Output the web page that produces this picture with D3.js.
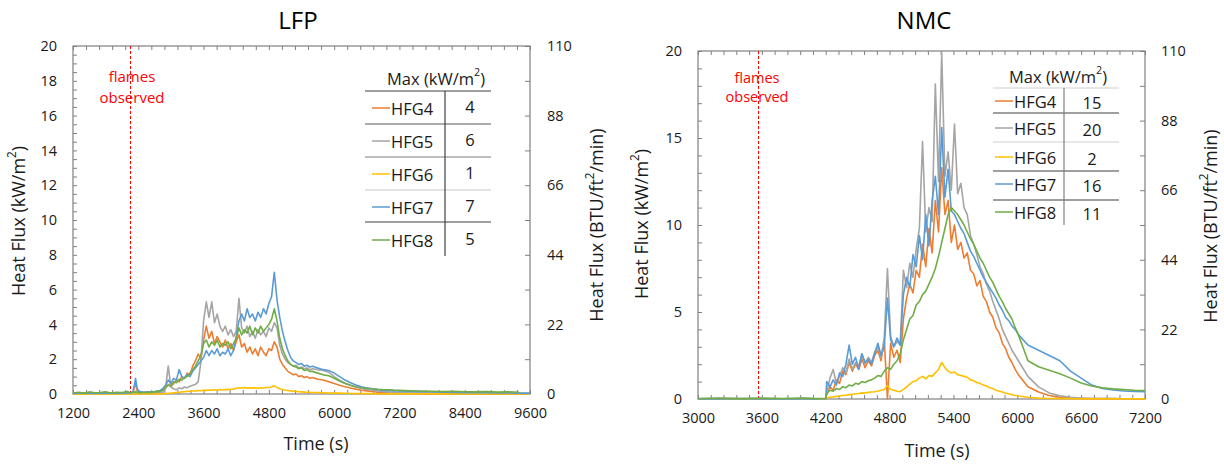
<!DOCTYPE html>
<html><head><meta charset="utf-8">
<script src="https://cdn.jsdelivr.net/npm/d3@7"></script>
<style>
body{margin:0;background:#fff;}
svg{display:block;font-family:"Open Sans","Noto Sans",sans-serif;}
</style></head><body>
<svg id="c" width="1224" height="466"></svg>
<script>
// ---------------- DATA ----------------
const seriesNames = ["HFG4","HFG5","HFG6","HFG7","HFG8"];
const lfpMax = [4,6,1,7,5];
const nmcMax = [15,20,2,16,11];
const lfpFlamesTime = 2240;
const nmcFlamesTime = 3565;

const lfpXTicks = [1200,2400,3600,4800,6000,7200,8400,9600];
const nmcXTicks = [3000,3600,4200,4800,5400,6000,6600,7200];
const lfpYTicks = [0,2,4,6,8,10,12,14,16,18,20];
const nmcYTicks = [0,5,10,15,20];
const btuTicks = [0,22,44,66,88,110];

const lfpTime = [1200,1300,1400,1500,1600,1700,1800,1900,2000,2100,2200,2250,2300,2330,2350,2380,2420,2500,2600,2700,2800,
2850,2900,2950,3000,3050,3100,3150,3200,3250,3300,3350,3400,3450,3500,3550,3600,3650,3700,3750,3800,
3850,3900,3950,4000,4050,4100,4150,4200,4250,4300,4350,4400,4450,4500,4550,4600,4650,4700,4750,4800,
4850,4900,4950,5000,5050,5100,5150,5200,5250,5300,5350,5400,5450,5500,5550,5600,
5700,5800,5900,6000,6100,6200,6300,6400,6500,6600,6700,6800,6900,7000,7100,7200,
7400,7600,7800,8000,8200,8400,8600,8800,9000,9200,9400,9600];

const lfpHFG4 = [0.03,0.04,0.03,0.05,0.04,0.03,0.05,0.04,0.03,0.05,0.04,0.06,0.08,0.40,0.60,0.20,0.10,0.08,0.10,0.12,0.18,
0.25,0.35,0.55,0.45,0.6,0.8,0.7,1.0,0.9,1.2,
1.1,1.6,1.9,2.3,2.0,3.1,3.9,3.2,3.6,2.9,
3.3,3.0,2.7,3.1,2.6,2.9,2.5,3.0,3.4,2.7,
2.9,2.4,2.7,2.3,2.6,2.2,2.7,2.4,2.2,2.6,
2.5,3.0,2.7,2.0,1.7,1.5,1.3,1.2,1.1,1.15,
1.0,1.05,0.95,1.0,0.9,0.95,
0.85,0.8,0.7,0.6,0.5,0.42,0.35,0.28,0.22,0.18,0.14,0.1,0.08,0.06,0.05,0.04,
0.03,0.02,0.02,0.01,0.01,0.01,0.01,0.01,0.01,0.01,0.01,0.01];

const lfpHFG5 = [0.04,0.03,0.05,0.04,0.05,0.03,0.04,0.05,0.04,0.03,0.05,0.04,0.05,0.10,0.15,0.10,0.06,0.05,0.06,0.08,0.10,
0.08,0.3,1.6,0.4,0.3,0.25,0.35,0.3,0.4,0.35,
0.45,0.5,0.55,0.7,1.8,4.2,5.3,4.4,5.3,4.1,
4.6,3.9,3.6,3.9,3.4,3.7,3.3,3.6,5.5,3.8,
3.5,3.9,3.3,3.6,3.2,3.7,3.4,3.6,3.3,3.8,
3.6,4.1,3.8,2.8,2.3,2.0,1.8,1.7,1.6,1.65,
1.5,1.55,1.45,1.5,1.4,1.45,
1.4,1.35,1.25,1.0,0.8,0.62,0.5,0.4,0.32,0.26,0.22,0.18,0.15,0.12,0.1,0.08,
0.06,0.05,0.04,0.03,0.03,0.02,0.02,0.02,0.02,0.02,0.02,0.02];

const lfpHFG6 = [0,0,0,0,0,0,0,0,0,0,0,0,0,0,0.01,0,0,0,0,0,0.01,
0.01,0.02,0.04,0.05,0.07,0.09,0.1,0.12,0.13,0.15,
0.16,0.17,0.18,0.2,0.19,0.22,0.21,0.23,0.22,0.24,
0.23,0.25,0.24,0.26,0.25,0.27,0.28,0.33,0.36,0.34,
0.37,0.35,0.36,0.34,0.35,0.33,0.36,0.34,0.37,0.38,
0.4,0.47,0.38,0.3,0.26,0.22,0.2,0.18,0.16,0.15,
0.13,0.12,0.11,0.1,0.1,0.09,
0.08,0.07,0.06,0.05,0.05,0.04,0.03,0.03,0.02,0.02,0.02,0.01,0.01,0.01,0.01,0.01,
0.01,0.01,0.01,0.01,0.01,0.01,0.01,0.01,0.01,0.01,0.01,0.01];

const lfpHFG7 = [0.05,0.04,0.06,0.05,0.03,0.06,0.05,0.04,0.06,0.05,0.07,0.06,0.10,0.55,0.90,0.30,0.15,0.10,0.12,0.14,0.20,
0.3,0.5,0.8,0.6,0.9,0.8,1.4,1.0,0.9,1.1,
1.0,1.3,1.5,1.7,1.9,2.1,2.5,2.2,2.5,2.3,
2.6,2.2,2.4,2.3,2.6,2.2,2.5,3.3,4.2,4.6,
4.2,4.9,4.4,4.6,4.2,4.7,4.4,4.9,4.6,5.2,
5.6,7.0,5.4,4.4,3.6,3.0,2.5,2.1,1.9,1.8,
1.7,1.75,1.6,1.65,1.55,1.6,
1.5,1.4,1.35,1.2,1.0,0.8,0.65,0.52,0.42,0.35,0.3,0.25,0.22,0.2,0.18,0.17,
0.15,0.13,0.12,0.1,0.09,0.08,0.07,0.07,0.06,0.06,0.05,0.05];

const lfpHFG8 = [0.06,0.10,0.05,0.12,0.07,0.09,0.13,0.06,0.10,0.08,0.14,0.07,0.10,0.12,0.09,0.11,0.06,0.10,0.08,0.12,0.15,
0.2,0.4,0.5,0.45,0.7,0.65,0.85,0.8,0.95,1.0,
1.2,1.4,1.6,1.9,2.2,2.9,3.1,2.7,3.0,2.8,
3.1,2.7,2.9,2.8,3.0,2.6,2.9,3.2,3.8,3.4,
3.7,3.5,3.9,3.4,3.8,3.5,3.9,3.6,3.8,4.0,
4.3,4.9,4.2,3.2,2.6,2.2,1.9,1.7,1.6,1.55,
1.45,1.5,1.35,1.4,1.3,1.3,
1.2,1.1,1.05,0.9,0.75,0.6,0.5,0.42,0.36,0.32,0.3,0.27,0.25,0.24,0.22,0.21,
0.19,0.17,0.16,0.14,0.15,0.13,0.12,0.14,0.11,0.12,0.1,null];

const nmcTime = [3000,3200,3400,3600,3800,4000,4100,4200,
4210,4240,4270,4300,4330,4360,4390,4420,4450,4480,
4510,4540,4570,4600,4630,4660,4690,4720,4750,4780,
4810,4840,4870,4900,4930,4960,4990,5020,5050,5080,
5110,5140,5170,5200,5230,5260,5290,5320,5350,5380,
5410,5440,5470,5500,5530,5560,5590,5620,5650,5680,
5710,5740,5770,5800,5830,5860,5890,5920,5950,5980,
6010,
6100,6200,6300,6400,6500,6600,6700,6800,6900,7000,7100,7200];

const nmcHFG4 = [0.01,0.01,0.01,0.01,0.01,0.01,0.01,0.02,
0.3,0.7,0.5,1.1,0.9,1.6,1.4,2.1,1.6,2.0,
1.7,2.3,1.8,2.2,1.9,2.5,2.8,2.2,3.4,0.0,
3.2,2.4,2.8,2.1,4.6,5.8,6.6,6.1,7.4,7.0,
8.9,7.6,9.8,8.4,11.4,9.6,13.3,10.6,11.4,9.0,
10.0,8.6,9.0,8.1,8.4,7.4,7.2,6.5,6.8,5.9,
5.6,5.0,4.7,4.1,3.8,3.2,2.9,2.4,2.1,1.7,
1.4,
0.7,0.4,0.2,0.1,0.06,0.04,0.03,0.02,0.02,0.01,0.01,0.01];

const nmcHFG5 = [0.01,0.02,0.01,0.02,0.01,0.02,0.01,0.02,
0.4,1.2,1.7,0.9,1.3,1.8,1.5,2.3,1.7,2.1,
1.9,2.6,2.0,2.4,2.1,2.7,3.0,2.4,3.5,7.5,
3.6,3.0,3.3,3.1,7.4,6.4,7.8,7.0,8.6,9.8,
14.8,9.6,11.0,10.2,18.1,12.5,19.9,12.8,14.2,12.0,
15.8,11.8,12.4,11.0,10.6,9.4,8.9,8.3,7.6,7.2,
6.6,6.2,5.6,5.1,4.6,4.0,3.6,3.2,2.8,2.5,
2.2,
1.3,0.7,0.35,0.18,0.1,0.05,0.03,0.02,0.02,0.01,0.01,0.01];

const nmcHFG6 = [0,0,0,0,0,0,0,0.01,
0.05,0.1,0.12,0.15,0.17,0.2,0.22,0.25,0.27,0.3,
0.32,0.35,0.34,0.38,0.4,0.42,0.45,0.5,0.55,0.78,
0.55,0.5,0.45,0.42,0.55,0.7,0.85,1.0,1.05,1.2,
1.3,1.15,1.35,1.3,1.5,1.7,2.1,1.8,1.6,1.5,
1.55,1.4,1.35,1.3,1.25,1.1,1.05,0.95,0.9,0.8,
0.75,0.65,0.6,0.5,0.45,0.4,0.33,0.3,0.25,0.2,
0.17,
0.1,0.05,0.03,0.02,0.02,0.01,0.01,0.01,0.01,0.01,0.01,0.01];

const nmcHFG7 = [0.01,0.01,0.02,0.01,0.01,0.02,0.01,0.02,
1.0,0.7,1.1,0.8,1.5,1.3,2.0,3.1,2.0,2.4,
1.7,2.6,2.1,2.3,2.0,2.6,3.2,2.5,3.0,5.8,
3.4,3.0,3.5,3.1,6.0,7.0,6.4,8.3,7.6,9.4,
8.0,10.6,8.8,11.4,12.8,10.6,15.6,11.6,13.2,10.8,
10.6,10.2,9.8,9.5,9.0,8.5,8.2,7.8,7.4,7.0,
6.7,6.4,6.1,5.8,5.4,5.1,4.7,4.5,4.2,4.0,
3.7,
3.1,2.8,2.5,2.2,1.6,1.2,0.8,0.6,0.52,0.46,0.43,0.42];

const nmcHFG8 = [0.03,0.06,0.02,0.05,0.03,0.06,0.02,0.04,
0.3,0.5,0.45,0.6,0.55,0.7,0.65,0.8,0.75,0.9,
0.85,1.0,0.95,1.05,1.1,1.2,1.35,1.3,1.6,1.8,
1.7,2.0,2.2,2.6,3.4,4.0,4.6,4.8,5.4,5.6,
6.0,6.2,6.6,7.0,7.5,8.2,9.0,9.8,10.6,11.0,
10.8,10.6,10.3,10.0,9.6,9.2,8.9,8.5,8.1,7.8,
7.4,7.0,6.7,6.3,5.9,5.6,5.2,4.9,4.6,4.1,
3.7,
2.2,1.85,1.65,1.45,1.2,0.92,0.75,0.64,0.58,0.54,0.5,0.48];

// ---------------- DRAWING ----------------
const colors = ["#ED7D31","#A5A5A5","#FFC000","#5B9BD5","#70AD47"];
const svg = d3.select("#c");
const frameColor = "#808080";
const textColor = "#1a1a1a";

function range2(a,b,s){const r=[];for(let v=a;v<=b+1e-9;v+=s)r.push(+v.toFixed(6));return r;}

function supText(sel, pre, sup, post, fs){
  sel.append("tspan").text(pre);
  sel.append("tspan").attr("dy",-fs*0.38).attr("font-size",fs*0.65).text(sup);
  sel.append("tspan").attr("dy",fs*0.38).text(post);
}

function drawChart(o){
  const g = svg.append("g");
  const x = d3.scaleLinear().domain(o.xDomain).range([o.x0,o.x1]);
  const y = d3.scaleLinear().domain([0,20]).range([o.y1,o.y0]);
  const y2 = d3.scaleLinear().domain([0,110]).range([o.y1,o.y0]);

  g.append("text").attr("x",o.titleX).attr("y",o.titleY).attr("text-anchor","middle")
    .attr("font-size",o.titleSize).attr("fill","#000").text(o.title);

  const cid = "clip"+o.title;
  svg.append("clipPath").attr("id",cid).append("rect")
    .attr("x",o.x0).attr("y",o.y0-2).attr("width",o.x1-o.x0).attr("height",o.y1-o.y0+3);

  const mk = (axis, tr, vals, size) => {
    const a = g.append("g").attr("transform",tr)
      .call(axis.tickValues(vals).tickSize(size).tickFormat(""));
    a.select(".domain").remove();
    a.selectAll("line").attr("stroke",frameColor);
    return a;
  };
  mk(d3.axisBottom(x), `translate(0,${o.y1})`, o.xMinor, -4);
  mk(d3.axisTop(x), `translate(0,${o.y0})`, o.xMinor, -4);
  mk(d3.axisLeft(y), `translate(${o.x0},0)`, o.yMinor, -4);
  mk(d3.axisRight(y2), `translate(${o.x1},0)`, o.y2Minor, -5);

  g.append("rect").attr("x",o.x0).attr("y",o.y0).attr("width",o.x1-o.x0).attr("height",o.y1-o.y0)
    .attr("fill","none").attr("stroke",frameColor).attr("stroke-width",1.2);

  const lab = (axis, tr, vals, pad) => {
    const a = g.append("g").attr("transform",tr)
      .call(axis.tickValues(vals).tickSize(0).tickPadding(pad));
    a.select(".domain").remove();
    a.selectAll("line").remove();
    a.selectAll("text").attr("font-size",o.tickSize).attr("fill",textColor).attr("font-family","Open Sans");
  };
  lab(d3.axisBottom(x).tickFormat(d3.format("d")), `translate(0,${o.y1})`, o.xTicks, o.xPad);
  lab(d3.axisLeft(y).tickFormat(d3.format("d")), `translate(${o.x0},0)`, o.yTicks, o.yPad);
  lab(d3.axisRight(y2).tickFormat(d3.format("d")), `translate(${o.x1},0)`, btuTicks, o.y2Pad);

  const fx = Math.round(x(o.flames))+0.5;
  g.append("line").attr("x1",fx).attr("x2",fx).attr("y1",o.y0).attr("y2",o.y1)
    .attr("stroke","#FF0000").attr("stroke-width",1).attr("stroke-dasharray","3,2")
    .attr("shape-rendering","crispEdges");
  g.append("text").attr("x",o.flamesTextX).attr("y",o.flamesY1).attr("text-anchor","middle")
    .attr("font-size",o.flamesSize).attr("fill","#FF0000").text("flames");
  g.append("text").attr("x",o.flamesTextX).attr("y",o.flamesY2).attr("text-anchor","middle")
    .attr("font-size",o.flamesSize).attr("fill","#FF0000").text("observed");

  const line = d3.line().defined(d=>d[1]!=null).x(d=>x(d[0])).y(d=>y(d[1]));
  const lg = g.append("g").attr("clip-path",`url(#${cid})`);
  o.series.forEach((vals,i)=>{
    lg.append("path").datum(o.time.map((t,k)=>[t,vals[k]]))
      .attr("d",line).attr("fill","none").attr("stroke",colors[i])
      .attr("stroke-width",1.6).attr("stroke-linejoin","round");
  });

  const t1 = g.append("text").attr("transform",`translate(${o.yTitleX},${o.yTitleY}) rotate(-90)`)
    .attr("text-anchor","middle").attr("dominant-baseline","central").attr("font-size",o.axTitleSize).attr("fill",textColor);
  supText(t1,"Heat Flux (kW/m","2",")",o.axTitleSize);
  const t2 = g.append("text").attr("transform",`translate(${o.y2TitleX},${o.y2TitleY}) rotate(-90)`)
    .attr("text-anchor","middle").attr("dominant-baseline","central").attr("font-size",o.axTitleSize).attr("fill",textColor);
  supText(t2,"Heat Flux (BTU/ft","2","/min)",o.axTitleSize);
  g.append("text").attr("x",o.xTitleX).attr("y",o.xTitleY).attr("text-anchor","middle")
    .attr("font-size",o.axTitleSize).attr("fill",textColor).text("Time (s)");

  const tb = o.table;
  const th = g.append("text").attr("x",tb.headX).attr("y",tb.headY).attr("text-anchor","middle")
    .attr("dominant-baseline","central").attr("font-size",tb.fs).attr("fill",textColor);
  supText(th,"Max (kW/m","2",")",tb.fs);
  tb.lineY.forEach((ly,i)=>{
    g.append("line").attr("x1",tb.lx0).attr("x2",tb.lx1).attr("y1",ly).attr("y2",ly)
      .attr("stroke",tb.lineColors[i]).attr("stroke-width",1.2);
  });
  g.append("line").attr("x1",tb.vx).attr("x2",tb.vx).attr("y1",tb.vy0).attr("y2",tb.vy1)
    .attr("stroke",tb.vColor).attr("stroke-width",1.2);
  seriesNames.forEach((nm,i)=>{
    const ry = tb.rowY[i];
    g.append("line").attr("x1",tb.sx0).attr("x2",tb.sx1).attr("y1",ry).attr("y2",ry)
      .attr("stroke",colors[i]).attr("stroke-width",1.5);
    g.append("text").attr("x",tb.sx1+1).attr("y",ry).attr("dominant-baseline","central")
      .attr("font-size",tb.fs).attr("fill",textColor).text(nm);
    g.append("text").attr("x",tb.valX).attr("y",ry-tb.valShift).attr("text-anchor","middle").attr("dominant-baseline","central")
      .attr("font-size",tb.fs).attr("fill",textColor).text(o.maxVals[i]);
  });
}

drawChart({
  title:"LFP", titleX:298, titleY:29, titleSize:24,
  xDomain:[1200,9600], x0:73, x1:530, y0:46, y1:394,
  time:lfpTime, series:[lfpHFG4,lfpHFG5,lfpHFG6,lfpHFG7,lfpHFG8],
  xTicks:lfpXTicks, xMinor:range2(1200,9600,240),
  yTicks:lfpYTicks, yMinor:range2(0,20,0.5), y2Minor:range2(0,110,11),
  tickSize:14.5, xPad:14, yPad:16, y2Pad:17,
  flames:lfpFlamesTime, flamesTextX:132, flamesY1:82, flamesY2:103, flamesSize:15,
  yTitleX:18, yTitleY:221, y2TitleX:596, y2TitleY:225, xTitleX:316, xTitleY:450, axTitleSize:18,
  maxVals:lfpMax,
  table:{fs:16.5, headX:436, headY:78, lx0:365, lx1:491, lineY:[91,124,157,190,222],
    lineColors:["#404040","#595959","#7f7f7f","#c8c8c8","#404040"],
    vx:445, vy0:91, vy1:256, vColor:"#404040",
    rowY:[108,141,174,207,240], sx0:372, sx1:390, valX:470, valShift:2}
});

drawChart({
  title:"NMC", titleX:924, titleY:29, titleSize:24,
  xDomain:[3000,7200], x0:698, x1:1145, y0:51, y1:399,
  time:nmcTime, series:[nmcHFG4,nmcHFG5,nmcHFG6,nmcHFG7,nmcHFG8],
  xTicks:nmcXTicks, xMinor:range2(3000,7200,120),
  yTicks:nmcYTicks, yMinor:range2(0,20,1), y2Minor:range2(0,110,11),
  tickSize:14.5, xPad:14, yPad:16, y2Pad:16,
  flames:nmcFlamesTime, flamesTextX:757, flamesY1:83, flamesY2:102, flamesSize:14.5,
  yTitleX:641, yTitleY:224, y2TitleX:1210, y2TitleY:226, xTitleX:937, xTitleY:457, axTitleSize:18,
  maxVals:nmcMax,
  table:{fs:16.5, headX:1058, headY:76, lx0:993, lx1:1119, lineY:[88,113,142,171,200],
    lineColors:["#d0d0d0","#404040","#d0d0d0","#404040","#404040"],
    vx:1064, vy0:88, vy1:225, vColor:"#7f7f7f",
    rowY:[101,128,157,184,212], sx0:995, sx1:1013, valX:1092, valShift:-1}
});
</script>
</body></html>
